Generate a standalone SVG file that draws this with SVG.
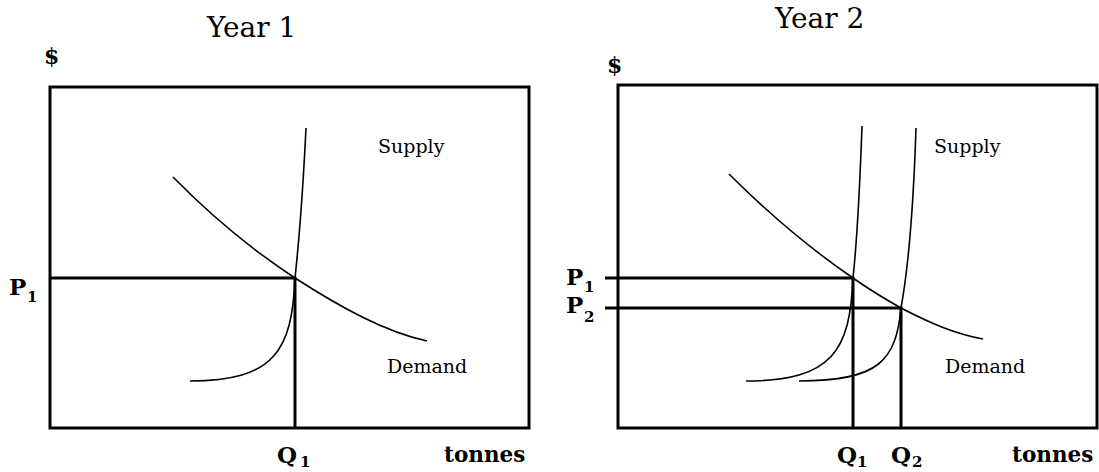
<svg xmlns="http://www.w3.org/2000/svg" width="1099" height="472" viewBox="0 0 1099 472">
<style>
.t{font-family:"DejaVu Serif","Liberation Serif",serif;fill:#000}
.title{font-size:28px}
.lab{font-size:19px}
.b{font-family:"DejaVu Serif","Liberation Serif",serif;font-weight:bold;fill:#000}
.pq{font-size:23px}
.sub{font-size:15px}
.ax{fill:none;stroke:#000;stroke-width:3}
.guide{stroke:#000;stroke-width:3;fill:none}
.curve{fill:none;stroke:#000;stroke-width:1.6}
</style>
<rect width="1099" height="472" fill="#fff"/>
<g id="chart-year1">
<text class="t title" x="207" y="37">Year 1</text>
<text class="b" x="44" y="64" font-size="22">$</text>
<rect class="ax" x="50" y="87" width="479" height="341"/>
<text class="b pq" x="9" y="295">P</text><text class="b sub" x="27" y="302">1</text>
<text class="b pq" x="277" y="463">Q</text><text class="b sub" x="300" y="467">1</text>
<text class="b" x="444" y="462" font-size="21.5">tonnes</text>
<text class="t lab" x="378" y="153">Supply</text>
<text class="t lab" x="387" y="373">Demand</text>
</g>
<g id="chart-year2">
<text class="t title" x="775" y="28">Year 2</text>
<text class="b" x="607" y="73" font-size="22">$</text>
<rect class="ax" x="618" y="85" width="479" height="343"/>
<text class="b pq" x="566" y="285">P</text><text class="b sub" x="584" y="292">1</text>
<text class="b pq" x="566" y="313">P</text><text class="b sub" x="584" y="322">2</text>
<text class="b pq" x="837" y="463">Q</text><text class="b sub" x="857" y="467">1</text>
<text class="b pq" x="891" y="463">Q</text><text class="b sub" x="912" y="467">2</text>
<text class="b" x="1012" y="462" font-size="21.5">tonnes</text>
<text class="t lab" x="934" y="153">Supply</text>
<text class="t lab" x="945" y="373">Demand</text>
</g>
<g id="connectors">
<path class="guide" d="M50,278 H295 V428"/>
<path class="curve" d="M306,128 C302,210 298,250 295,278 C292,350 275,381 190,381"/>
<path class="curve" d="M173,177 C220,225 260,255 295,278 C340,307 385,332 427,341"/>
<path class="guide" d="M605,278 H853 V428"/>
<path class="guide" d="M605,308 H901 V428"/>
<path class="curve" d="M862,126 C859,210 856,250 853,278 C850,350 833,381 746,381"/>
<path class="curve" d="M916,128 C913,220 907,275 901,308 C896,360 880,381 799,381"/>
<path class="curve" d="M729,174 C775,220 815,252 853,278 C870,290 885,299 901,308 C930,323 955,334 983,339"/>
</g>
</svg>
